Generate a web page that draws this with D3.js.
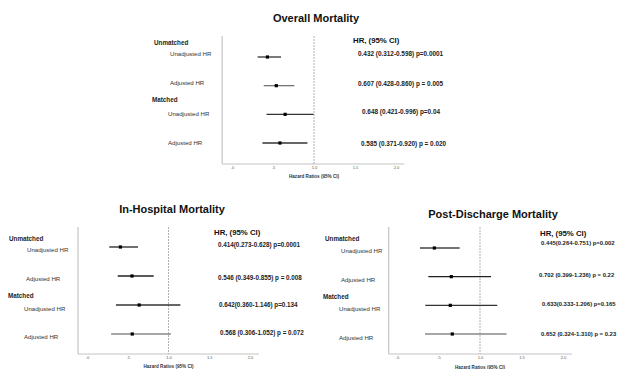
<!DOCTYPE html>
<html>
<head>
<meta charset="utf-8">
<script src="https://cdn.jsdelivr.net/npm/d3@7/dist/d3.min.js"></script>
<style>
  html, body { margin: 0; padding: 0; background: #fff; }
  svg { display: block; font-family: "Liberation Sans", Arial, sans-serif; }
</style>
</head>
<body>
<svg id="chart" width="619" height="369"></svg>
<script>
// ---------------- DATA ----------------
const rowNames = ["Unadjusted HR", "Adjusted HR", "Unadjusted HR", "Adjusted HR"];
const groupNames = ["Unmatched", "Matched"];
const tickValues = [0, 0.5, 1.0, 1.5, 2.0];
const tickLabels = [".0", ".5", "1.0", "1.5", "2.0"];
const headerText = "HR, (95% CI)";
const axisTitle = "Hazard Ratios (95% CI)";

const panelTitles = ["Overall Mortality", "In-Hospital Mortality", "Post-Discharge Mortality"];

// values as plotted
const overallHR = [0.432, 0.540, 0.648, 0.585];
const overallLo = [0.312, 0.387, 0.421, 0.371];
const overallHi = [0.598, 0.760, 0.996, 0.920];
const overallText = [
  "0.432 (0.312-0.598) p=0.0001",
  "0.607 (0.428-0.860) p =  0.005",
  "0.648 (0.421-0.996) p=0.04",
  "0.585 (0.371-0.920) p = 0.020"
];

const hospHR = [0.410, 0.552, 0.640, 0.555];
const hospLo = [0.273, 0.377, 0.355, 0.296];
const hospHi = [0.626, 0.818, 1.146, 1.030];
const hospText = [
  "0.414(0.273-0.628) p=0.0001",
  "0.546 (0.349-0.855) p = 0.008",
  "0.642(0.360-1.146) p=0.134",
  "0.568 (0.306-1.052) p = 0.072"
];

const postHR = [0.450, 0.654, 0.642, 0.666];
const postLo = [0.277, 0.377, 0.341, 0.337];
const postHi = [0.755, 1.133, 1.208, 1.320];
const postText = [
  "0.445(0.264-0.751) p=0.002",
  "0.702 (0.399-1.236) p = 0.22",
  "0.633(0.333-1.206) p=0.165",
  "0.652 (0.324-1.310) p = 0.23"
];

// ---------------- LAYOUT ----------------
const panels = [
  {
    title: panelTitles[0], hr: overallHR, lo: overallLo, hi: overallHi, txt: overallText,
    x0: 232, x2: 396, axLeft: -0.12, axRight: 2.1, axTop: 36, axBottom: 164,
    rowY: [57, 86, 114, 143],
    titleX: 316, titleY: 22,
    groupX: [154, 152], groupY: [43, 100],
    labX: [170, 170, 168, 168], labDy: [-3, -2, 0, 0],
    headX: 353, headY: 41,
    valX: [358, 358, 362, 361], valY: [54, 84, 112, 144], valSize: 6.4,
    tickY: 164, axTitleY: 177,
    barColor: ["#333", "#777", "#333", "#333"]
  },
  {
    title: panelTitles[1], hr: hospHR, lo: hospLo, hi: hospHi, txt: hospText,
    x0: 87, x2: 250, axLeft: -0.11, axRight: 2.11, axTop: 227, axBottom: 354,
    rowY: [247, 276, 305, 334],
    titleX: 172, titleY: 213,
    groupX: [9, 8], groupY: [239, 296],
    labX: [27, 26, 24, 24], labDy: [3, 3, 4, 3],
    headX: 214, headY: 233,
    valX: [218, 218, 219, 220], valY: [245, 278, 305, 333], valSize: 6.3,
    tickY: 354, axTitleY: 367,
    barColor: ["#222", "#222", "#333", "#888"]
  },
  {
    title: panelTitles[2], hr: postHR, lo: postLo, hi: postHi, txt: postText,
    x0: 397, x2: 563, axLeft: -0.1, axRight: 2.11, axTop: 227, axBottom: 354,
    rowY: [248, 276, 305, 334],
    titleX: 493, titleY: 218,
    groupX: [325, 323], groupY: [239, 297],
    labX: [341, 341, 339, 339], labDy: [3, 4, 4, 4],
    headX: 540, headY: 234,
    valX: [541, 539, 542, 541], valY: [243, 275, 304, 334], valSize: 5.9,
    tickY: 354, axTitleY: 368,
    barColor: ["#444", "#222", "#333", "#888"]
  }
];

const svg = d3.select("#chart");

panels.forEach(p => {
  const g = svg.append("g");
  const x = d3.scaleLinear().domain([0, 2]).range([p.x0, p.x2]);
  const y = d3.scalePoint().domain(d3.range(4)).range([p.rowY[0], p.rowY[3]]);

  // title
  g.append("text")
    .attr("x", p.titleX).attr("y", p.titleY)
    .attr("text-anchor", "middle")
    .attr("font-size", 11).attr("font-weight", "bold").attr("fill", "#111")
    .text(p.title);

  // axis frame: left and bottom
  g.append("line")
    .attr("x1", x(p.axLeft)).attr("x2", x(p.axLeft))
    .attr("y1", p.axTop).attr("y2", p.axBottom)
    .attr("stroke", "#c4c4c4").attr("stroke-width", 1.2);
  g.append("line")
    .attr("x1", x(p.axLeft)).attr("x2", x(p.axRight))
    .attr("y1", p.axBottom).attr("y2", p.axBottom)
    .attr("stroke", "#c4c4c4").attr("stroke-width", 1.2);

  // reference line at 1.0
  g.append("line")
    .attr("x1", x(1)).attr("x2", x(1))
    .attr("y1", p.axTop).attr("y2", p.axBottom)
    .attr("stroke", "#a8a8a8").attr("stroke-width", 0.9)
    .attr("stroke-dasharray", "2,1");

  // x axis tick labels
  const axis = d3.axisBottom(x)
    .tickValues(tickValues)
    .tickFormat((d, i) => tickLabels[i])
    .tickSize(0).tickPadding(2.5);
  const ax = g.append("g").attr("transform", `translate(0,${p.tickY})`).call(axis);
  ax.select(".domain").remove();
  ax.selectAll("text").attr("font-size", 4).attr("fill", "#555")
    .attr("font-family", "Liberation Sans, Arial, sans-serif");

  // axis title
  g.append("text")
    .attr("x", x(1)).attr("y", p.axTitleY)
    .attr("text-anchor", "middle").attr("dominant-baseline", "middle")
    .attr("font-size", 4.6).attr("font-weight", "bold").attr("fill", "#333")
    .text(axisTitle);

  // group labels
  groupNames.forEach((name, i) => {
    g.append("text")
      .attr("x", p.groupX[i]).attr("y", p.groupY[i])
      .attr("dominant-baseline", "middle")
      .attr("font-size", 6.3).attr("font-weight", "bold").attr("fill", "#222")
      .text(name);
  });

  // row labels
  rowNames.forEach((name, i) => {
    g.append("text")
      .attr("x", p.labX[i]).attr("y", y(i) + p.labDy[i])
      .attr("dominant-baseline", "middle")
      .attr("font-size", 6.1).attr("fill", "#333")
      .text(name);
  });

  // CI bars
  g.selectAll("line.ci").data(d3.range(4)).join("line")
    .attr("class", "ci")
    .attr("x1", i => x(p.lo[i])).attr("x2", i => x(p.hi[i]))
    .attr("y1", i => y(i)).attr("y2", i => y(i))
    .attr("stroke", i => p.barColor[i]).attr("stroke-width", 1.3);

  // point markers
  g.selectAll("rect.pt").data(d3.range(4)).join("rect")
    .attr("class", "pt")
    .attr("x", i => x(p.hr[i]) - 1.6).attr("y", i => y(i) - 1.6)
    .attr("width", 3.2).attr("height", 3.2)
    .attr("fill", "#000");

  // header
  g.append("text")
    .attr("x", p.headX).attr("y", p.headY)
    .attr("dominant-baseline", "middle")
    .attr("font-size", 7.8).attr("font-weight", "bold").attr("fill", "#111")
    .text(headerText);

  // value texts
  p.txt.forEach((t, i) => {
    g.append("text")
      .attr("x", p.valX[i]).attr("y", p.valY[i])
      .attr("dominant-baseline", "middle")
      .attr("font-size", p.valSize).attr("font-weight", "bold").attr("fill", "#222")
      .text(t);
  });
});
</script>
</body>
</html>
